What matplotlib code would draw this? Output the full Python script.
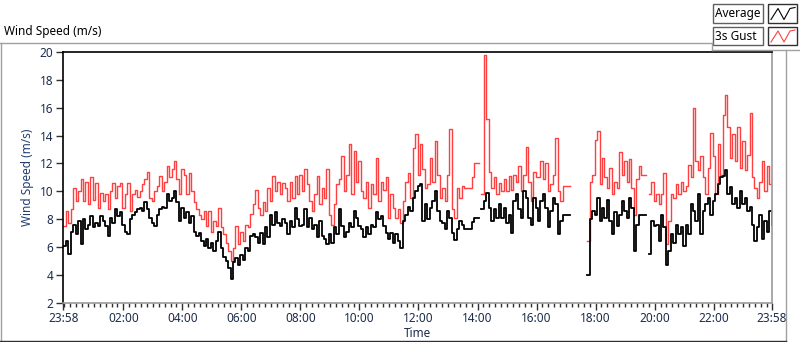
import numpy as np
import matplotlib.pyplot as plt
from matplotlib.lines import Line2D
from matplotlib.patches import Rectangle
from matplotlib.ticker import MultipleLocator

plt.rcParams['font.family'] = ['Noto Sans', 'DejaVu Sans']

nan = np.nan

# samples every 5 minutes, first one at 23:58 of the previous day
start_min = -2
step_min = 5

# Average wind speed (m/s)
avg = [
    # 23:58 - 03:58
    6.1, 6.4, 5.5, 7.1, 7.6, 6.9, 7.9, 6.2, 8.0, 7.3, 7.6, 8.2, 7.4, 7.7, 7.5, 8.2,
    7.9, 7.5, 6.8, 8.1, 7.7, 8.7, 8.2, 8.5, 7.6, 7.1, 6.9, 8.0, 8.3, 8.5, 8.7, 8.8,
    8.6, 9.2, 8.7, 8.1, 7.7, 7.5, 8.3, 8.7, 8.9, 8.8, 9.8, 9.3, 9.5, 10.0, 9.2, 7.9, 8.8,
    # 04:03 - 07:58
    8.1, 8.5, 7.7, 8.2, 7.1, 6.8, 7.0, 6.4, 6.1, 6.6, 5.9, 6.3, 5.7, 6.4, 7.1, 5.9,
    5.3, 5.0, 4.5, 3.7, 4.9, 5.2, 4.7, 5.4, 5.1, 5.9, 5.7, 6.8, 6.9, 6.7, 6.3, 7.0,
    6.2, 7.4, 6.7, 8.3, 7.6, 8.5, 7.7, 7.5, 8.0, 7.7, 6.9, 7.9, 7.4, 8.8, 8.0, 7.5,
    # 08:03 - 11:58
    7.6, 8.7, 7.4, 8.1, 7.3, 7.6, 6.7, 7.9, 6.8, 6.6, 6.2, 6.9, 6.3, 7.4, 6.9, 8.7,
    7.5, 6.7, 7.1, 7.7, 7.4, 8.6, 8.1, 7.5, 7.3, 6.7, 7.4, 6.9, 7.6, 7.4, 8.5, 8.0,
    8.2, 7.5, 7.0, 6.6, 7.0, 6.3, 6.9, 6.4, 5.9, 7.9, 8.3, 8.9, 8.6, 9.5, 10.0, 10.4,
    # 12:03 - 15:58
    10.5, 7.9, 9.1, 8.0, 8.8, 9.3, 10.0, 8.6, 7.9, 7.7, 7.3, 8.6, 8.1, 7.0, 6.5, 7.3,
    7.9, 7.6, 7.3, 7.3, 7.3, 7.8, 8.1, 8.1, nan, 8.7, 9.3, 9.9, 8.8, 7.9, 8.7, 8.1,
    9.1, 8.1, 8.8, 7.7, 8.3, 7.0, 9.3, 9.8, 8.7, 8.1, 10.0, 9.5, 8.1, 7.6, 9.5, 8.8,
    # 16:03 - 19:58
    7.9, 9.3, 9.8, 8.8, 7.4, 8.6, 9.5, 9.1, 6.9, 7.9, 8.3, 8.3, 8.3, nan, nan, nan,
    nan, nan, nan, nan, 4.0, 8.0, 8.6, 8.3, 9.5, 7.9, 8.8, 8.1, 9.4, 7.9, 6.9, 8.5,
    7.5, 8.3, 9.3, 8.6, 8.1, 9.5, 8.8, 5.7, 7.6, 8.3, 8.3, 8.3, nan, 5.5, 7.9, 7.5,
    # 20:03 - 23:58
    7.6, 6.4, 8.3, 7.4, 4.7, 5.7, 6.9, 6.3, 7.6, 6.9, 7.4, 6.1, 7.6, 6.9, 9.1, 8.6,
    7.9, 9.8, 6.9, 8.6, 9.1, 9.5, 8.3, 9.3, 9.8, 10.5, 11.0, 11.1, 11.5, 9.8, 10.3, 9.1,
    9.5, 8.8, 10.0, 9.1, 9.5, 8.6, 8.9, 7.6, 6.4, 7.4, 8.3, 6.6, 7.9, 7.1, 8.6, 7.6,
]

# 3 second gust (m/s)
gust = [
    # 23:58 - 03:58
    7.5, 8.6, 7.7, 8.7, 10.2, 9.3, 10.0, 10.9, 9.3, 10.7, 9.1, 11.0, 9.4, 10.6, 8.8, 9.9,
    9.3, 9.8, 8.7, 10.0, 10.6, 9.5, 10.4, 10.6, 8.8, 9.8, 10.6, 8.6, 9.8, 10.1, 9.6, 10.0,
    10.5, 10.9, 11.4, 9.5, 9.3, 10.0, 10.4, 11.1, 10.0, 10.7, 11.8, 11.0, 11.6, 12.2, 10.9, 9.8, 11.6,
    # 04:03 - 07:58
    11.2, 9.8, 11.3, 10.0, 9.2, 8.7, 8.3, 8.0, 8.6, 7.5, 8.6, 7.1, 7.9, 7.5, 8.8, 7.4,
    6.9, 6.3, 5.7, 5.0, 5.9, 7.5, 6.2, 7.1, 6.4, 7.6, 7.4, 8.4, 9.1, 10.1, 8.8, 8.3,
    9.2, 8.6, 10.2, 9.3, 11.1, 10.0, 10.7, 9.8, 10.6, 10.2, 9.3, 10.7, 9.5, 11.1, 9.8, 11.2,
    # 08:03 - 11:58
    10.0, 11.6, 10.5, 9.3, 8.6, 9.8, 11.1, 9.1, 10.2, 9.5, 11.6, 8.3, 7.6, 9.1, 10.5, 10.9,
    12.5, 10.0, 11.2, 13.4, 9.8, 12.9, 10.7, 12.2, 10.0, 9.5, 10.7, 8.8, 10.5, 9.8, 12.4, 9.3,
    10.7, 10.1, 11.0, 8.1, 9.8, 8.8, 8.1, 8.7, 7.7, 9.3, 10.7, 11.3, 9.5, 13.1, 14.1, 11.2,
    # 12:03 - 15:58
    13.4, 11.6, 10.2, 10.5, 12.4, 10.7, 13.6, 11.2, 9.5, 10.2, 9.3, 11.2, 14.5, 8.7, 8.1, 10.2,
    9.5, 10.4, 10.2, 10.2, 10.2, 11.0, 12.0, 12.0, nan, 9.8, 19.8, 15.2, 11.4, 10.2, 11.0, 9.8,
    10.6, 10.0, 10.9, 10.0, 11.1, 10.1, 11.2, 10.7, 11.8, 10.0, 11.2, 13.2, 10.7, 9.3, 11.4, 11.0,
    # 16:03 - 19:58
    11.0, 12.2, 10.9, 12.0, 10.0, 10.5, 11.2, 13.8, 10.0, 9.3, 10.35, 10.35, 10.35, nan, nan, nan,
    nan, nan, nan, nan, 6.4, 10.7, 11.2, 13.7, 14.3, 10.5, 12.4, 11.0, 10.2, 11.7, 9.8, 10.7,
    10.2, 12.8, 11.2, 12.2, 10.7, 12.3, 10.2, 8.3, 10.9, 11.8, 11.2, 11.2, nan, 9.8, 10.7, 9.3,
    # 20:03 - 23:58
    9.8, 9.1, 9.8, 11.3, 6.2, 7.9, 9.8, 9.5, 10.5, 9.8, 10.7, 10.0, 10.4, 11.9, 11.0, 16.0,
    12.2, 11.5, 12.5, 11.0, 9.8, 11.7, 14.2, 12.5, 9.8, 13.4, 11.2, 15.5, 16.9, 14.6, 12.4, 14.1,
    12.2, 14.6, 11.7, 13.6, 11.5, 12.6, 15.6, 11.0, 10.2, 9.5, 10.7, 12.2, 10.0, 11.8, 10.5, 11.4,
]

x_ticks = [-2 / 60, 2, 4, 6, 8, 10, 12, 14, 16, 18, 20, 22, 1438 / 60]
x_labels = ['23:58', '02:00', '04:00', '06:00', '08:00', '10:00', '12:00',
            '14:00', '16:00', '18:00', '20:00', '22:00', '23:58']

hours = (start_min + step_min * np.arange(len(avg))) / 60.0

W, H = 800, 342


def fx(px):
    return px / W


def fy(py):
    return 1 - py / H


fig = plt.figure(figsize=(W / 100, H / 100), dpi=100)

# outer panel frame
frame = '#a0a0a0'
fig.add_artist(Line2D([fx(0), fx(712)], [fy(42.5), fy(42.5)], color=frame, lw=1))
fig.add_artist(Line2D([fx(712), fx(712)], [fy(42.5), fy(50)], color=frame, lw=1))
fig.add_artist(Line2D([fx(712), fx(800)], [fy(50), fy(50)], color=frame, lw=1))
fig.add_artist(Line2D([fx(786), fx(786)], [fy(50), fy(341)], color=frame, lw=1))
fig.add_artist(Line2D([fx(0.5), fx(0.5)], [fy(42.5), fy(341)], color=frame, lw=1))
fig.add_artist(Line2D([fx(0), fx(786)], [fy(340.5), fy(340.5)], color='#303030', lw=1))

fig.text(fx(4), fy(32), 'Wind Speed (m/s)', fontsize=8.5, va='center', ha='left')

# legend
legend_items = [('Average', 'black'), ('3s Gust', '#ff4040')]
for i, (name, col) in enumerate(legend_items):
    top = 4.5 + i * 22.5
    fig.add_artist(Rectangle((fx(713), fy(top + 18)), fx(50), 18 / H, transform=fig.transFigure,
                             facecolor='white', edgecolor='#606060', lw=1))
    fig.text(fx(715), fy(top + 9), name, fontsize=8.5, va='center', ha='left')
    fig.add_artist(Rectangle((fx(768), fy(top + 18)), fx(29), 18 / H, transform=fig.transFigure,
                             facecolor='white', edgecolor='#303030', lw=1))
    zx = [771, 778, 784, 790, 795]
    zy = [top + 15, top + 4, top + 15, top + 4, top + 3]
    fig.add_artist(Line2D([fx(v) for v in zx], [fy(v) for v in zy], color=col, lw=0.8))

ax = fig.add_axes([fx(63.3), fy(302.7), fx(771.7 - 63.3), (302.7 - 52) / H])
ax.plot(hours, gust, color='#ff4040', lw=1.0, drawstyle='steps-post')
ax.plot(hours, avg, color='black', lw=1.3, drawstyle='steps-post')

ax.set_xlim(-2 / 60, 1438 / 60)
ax.set_ylim(2, 20)
ax.set_yticks(range(2, 21, 2))
ax.set_xticks(x_ticks, x_labels)
ax.xaxis.set_minor_locator(MultipleLocator(0.2))

lab_col = '#1c2c4c'
ax.tick_params(axis='both', which='major', direction='out', length=5, width=1,
               labelsize=8.5, labelcolor=lab_col, color='#303030', pad=2)
ax.tick_params(axis='x', which='minor', direction='out', length=3, width=1, color='#303030')

ax.set_ylabel('Wind Speed (m/s)', fontsize=8.5, color='#233d70', labelpad=4)
ax.set_xlabel('Time', fontsize=8.5, color='#1c2c4c', labelpad=1)

for side in ('top', 'left'):
    ax.spines[side].set_color('black')
    ax.spines[side].set_linewidth(1.2)
for side in ('bottom', 'right'):
    ax.spines[side].set_color('#9a9a9a')
    ax.spines[side].set_linewidth(1.2)

fig.savefig('out.png', dpi=100)
